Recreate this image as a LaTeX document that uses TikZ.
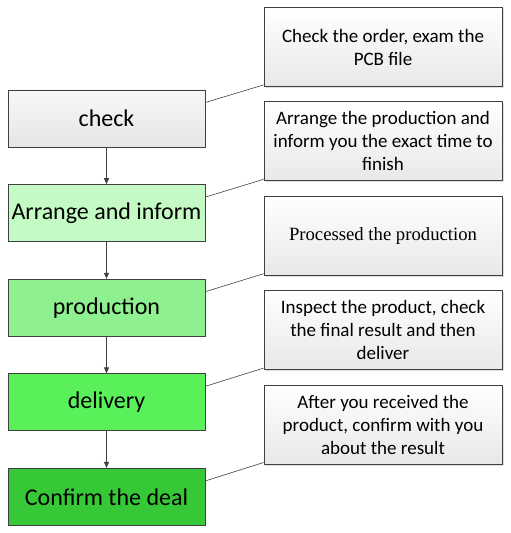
\documentclass[tikz,border=0pt]{standalone}
\usepackage{fontspec}
\setmainfont{Carlito}
\newfontfamily\serifnote{Liberation Serif}
\usepackage{xcolor}
\definecolor{edge}{HTML}{404040}
\definecolor{stepA}{HTML}{C4FBC4}
\definecolor{stepB}{HTML}{8EF08E}
\definecolor{stepC}{HTML}{5AF05A}
\definecolor{stepD}{HTML}{36C836}
\usetikzlibrary{positioning,arrows.meta,shadows}

\begin{document}
\begin{tikzpicture}[
  x=1pt,y=1pt,
  >={Triangle[length=6pt,width=5pt]},
  every node/.style={align=center},
  stage/.style={draw=edge,line width=0.8pt,minimum width=197pt,
              minimum height=57pt,inner sep=2pt,font=\fontsize{24}{28}\selectfont},
  note/.style={draw=edge,line width=0.8pt,minimum width=238pt,
              minimum height=79pt,inner sep=3pt,top color=white,bottom color=black!9,
              drop shadow={shadow xshift=1.5pt,shadow yshift=-1.5pt,fill=black!25},
              font=\fontsize{19}{23}\selectfont},
  flow/.style={->,edge,line width=0.8pt},
  link/.style={edge,line width=0.6pt},
]
\useasboundingbox (0,0) rectangle (511,533);

% --- left column: the steps
\node[stage,top color=black!3,bottom color=black!10] (chk) at (106.5,414.5) {check};
\node[stage,fill=stepA,below=36.8pt of chk] (arr)  {Arrange and inform};
\node[stage,fill=stepB,below=36.8pt of arr] (prod) {production};
\node[stage,fill=stepC,below=36.8pt of prod] (dlv) {delivery};
\node[stage,fill=stepD,below=36.8pt of dlv] (deal) {Confirm the deal};

% --- right column: what each step means
\node[note] (n1) at (383,486) {Check the order, exam the\\PCB file};
\node[note,below=14.6pt of n1] (n2)
   {Arrange the production and\\inform you the exact time to\\finish};
\node[note,below=14.6pt of n2] (n3) {\serifnote\fontsize{18.7}{22}\selectfont Processed the production};
\node[note,below=14.6pt of n3] (n4)
   {Inspect the product, check\\the final result and then\\deliver};
\node[note,below=14.6pt of n4] (n5)
   {After you received the\\product, confirm with you\\about the result};

% --- arrows down the steps
\draw[flow] (chk)  -- (arr);
\draw[flow] (arr)  -- (prod);
\draw[flow] (prod) -- (dlv);
\draw[flow] (dlv)  -- (deal);

% --- links to the notes
\foreach \s/\n in {chk/n1,arr/n2,prod/n3,dlv/n4,deal/n5}
  \draw[link] ([yshift=16pt]\s.east) -- ([yshift=2pt]\n.south west);

\end{tikzpicture}
\end{document}
